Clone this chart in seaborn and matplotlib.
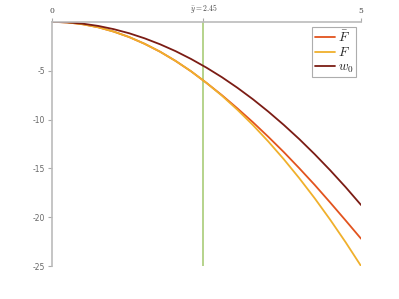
import numpy as np
import pandas as pd
import matplotlib
matplotlib.use("Agg")
import matplotlib.pyplot as plt
import seaborn as sns

# values
x_vals = [0, 0.25, 0.5, 0.75, 1, 1.25, 1.5, 1.75, 2, 2.25, 2.5, 2.75,
          3, 3.25, 3.5, 3.75, 4, 4.25, 4.5, 4.75, 5]
F_bar = [0, -0.06, -0.25, -0.56, -1.0, -1.56, -2.25, -3.06, -4.0, -5.06, -6.25, -7.51,
         -8.86, -10.27, -11.77, -13.33, -14.98, -16.69, -18.49, -20.33, -22.2]
F_vals = [0, -0.06, -0.25, -0.56, -1.0, -1.56, -2.25, -3.06, -4.0, -5.06, -6.25, -7.56,
          -9.0, -10.56, -12.25, -14.06, -16.0, -18.06, -20.25, -22.56, -25.0]
w0_vals = [0, -0.05, -0.19, -0.42, -0.75, -1.17, -1.69, -2.30, -3.0, -3.80, -4.69, -5.67,
           -6.75, -7.92, -9.19, -10.55, -12.0, -13.55, -15.19, -16.92, -18.75]
series_names = [r"$\bar{F}$", r"$F$", r"$w_0$"]
series_colors = ["#e2531e", "#f0b02c", "#7b1c14"]
y_bar = 2.45
top_ticks = [0, 2.45, 5]
top_labels = ["0", r"$\bar{y}=2.45$", "5"]
y_ticks = [-5, -10, -15, -20, -25]

sns.set_theme(style="white")
plt.rcParams["mathtext.fontset"] = "cm"

df = pd.DataFrame({
    "x": x_vals * 3,
    "y": F_bar + F_vals + w0_vals,
    "series": sum([[n] * len(x_vals) for n in series_names], []),
})

fig = plt.figure(figsize=(3.99, 2.99), dpi=100)
ax = fig.add_axes([0.130, 0.110, 0.775, 0.817])

ax.axvline(y_bar, color="#a9cc78", lw=1.2, zorder=1)
sns.lineplot(data=df, x="x", y="y", hue="series", hue_order=series_names,
             palette=series_colors, lw=1.3, ax=ax, zorder=2)

ax.set_xlim(0, 5)
ax.set_ylim(-25, 0)
ax.set_xlabel("")
ax.set_ylabel("")

# x axis on top
ax.xaxis.tick_top()
ax.set_xticks(top_ticks)
ax.set_xticklabels(top_labels, fontsize=5.5, family="serif", color="#444444")
ax.set_yticks(y_ticks)
ax.set_yticklabels([str(t) for t in y_ticks], fontsize=5.5, color="#666666")
ax.tick_params(axis="both", length=3, width=0.8, color="#aaaaaa", pad=2)
ax.tick_params(axis="x", top=True, bottom=False, direction="out")
ax.tick_params(axis="y", left=True, direction="out")

for side in ["right", "bottom"]:
    ax.spines[side].set_visible(False)
for side in ["left", "top"]:
    ax.spines[side].set_color("#bbbbbb")
    ax.spines[side].set_linewidth(1.2)

leg = ax.legend(loc="upper right", bbox_to_anchor=(0.984, 0.978), fontsize=9.5,
                frameon=True, fancybox=False, handlelength=1.5, borderpad=0.2,
                labelspacing=0.1, handletextpad=0.25, borderaxespad=0.0)
leg.get_frame().set_edgecolor("#999999")
leg.get_frame().set_linewidth(0.8)

fig.savefig("out.png", dpi=100)
